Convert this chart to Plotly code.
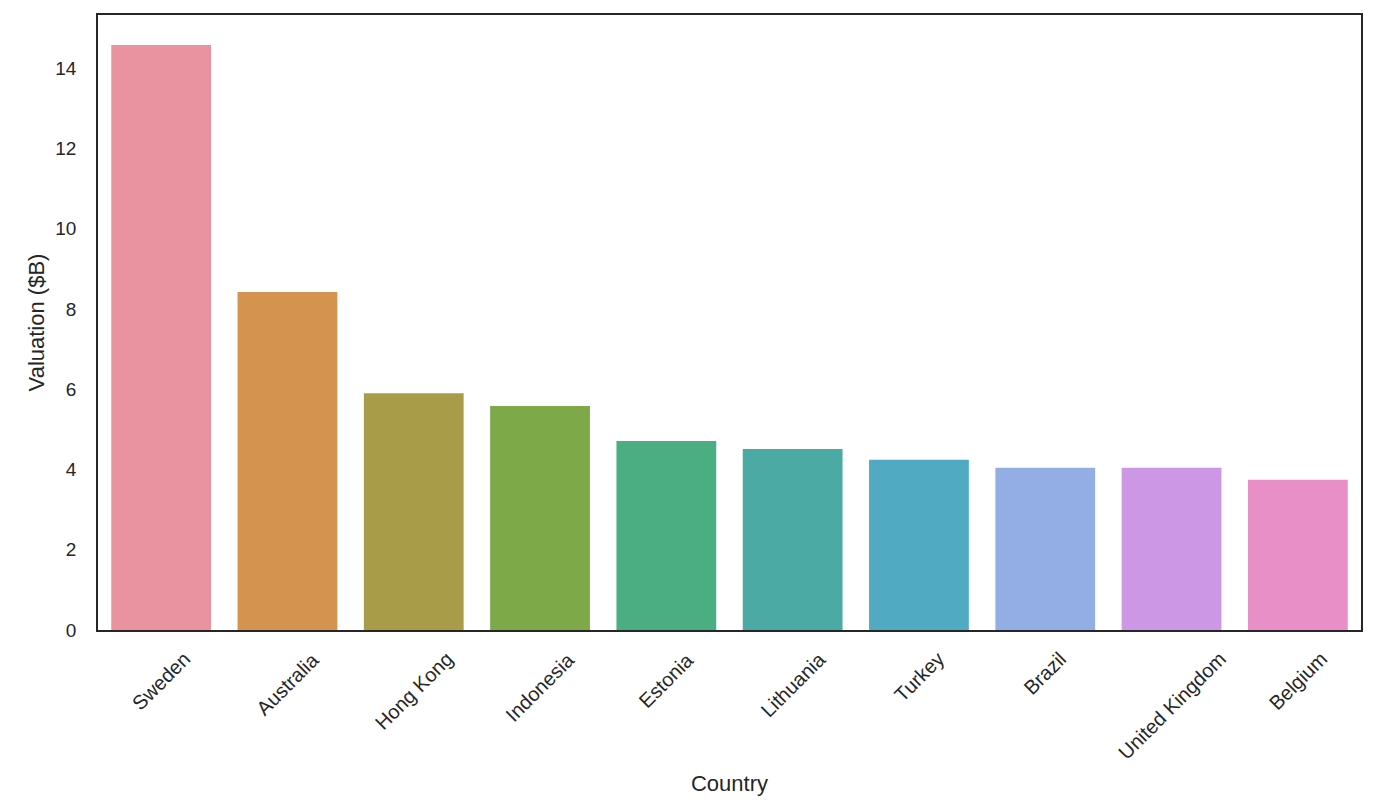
import plotly.graph_objects as go

countries = ["Sweden", "Australia", "Hong Kong", "Indonesia", "Estonia",
             "Lithuania", "Turkey", "Brazil", "United Kingdom", "Belgium"]
valuations = [14.57, 8.42, 5.90, 5.58, 4.71, 4.51, 4.24, 4.04, 4.04, 3.74]
colors = ["#e8939f", "#d4934e", "#a99c48", "#7da948", "#4bae82",
          "#4caaa5", "#50aac1", "#93aee5", "#cc98e5", "#e88fc7"]
y_ticks = [0, 2, 4, 6, 8, 10, 12, 14]

FONT = "Liberation Sans, Arial, sans-serif"
TXT = "#262626"

fig = go.Figure(go.Bar(x=countries, y=valuations, marker_color=colors,
                       marker_line_width=0))

# rotated, centre-aligned category labels (matplotlib style)
for c in countries:
    fig.add_annotation(x=c, y=0, xref="x", yref="paper", text=c, textangle=-45,
                       showarrow=False, xanchor="center", yanchor="top", yshift=-15,
                       font=dict(family=FONT, size=20, color=TXT))

axis_common = dict(showline=True, linecolor=TXT, linewidth=1.6, mirror=True,
                   showgrid=False, zeroline=False, automargin=False,
                   tickfont=dict(family=FONT, size=19, color=TXT),
                   title_font=dict(family=FONT, size=22, color=TXT))

fig.update_layout(
    width=1362, height=796,
    margin=dict(l=90, r=9, t=7, b=174),
    plot_bgcolor="white", paper_bgcolor="white",
    bargap=0.21,
    showlegend=False,
    xaxis=dict(**axis_common, title_text="Country", range=[-0.5, 9.5],
               showticklabels=False, title_standoff=145),
    yaxis=dict(**axis_common, title_text="Valuation ($B)", range=[0, 15.32],
               tickvals=y_ticks, ticks="outside", ticklen=16,
               tickcolor="white", title_standoff=5),
)

fig.write_html("out.html")
